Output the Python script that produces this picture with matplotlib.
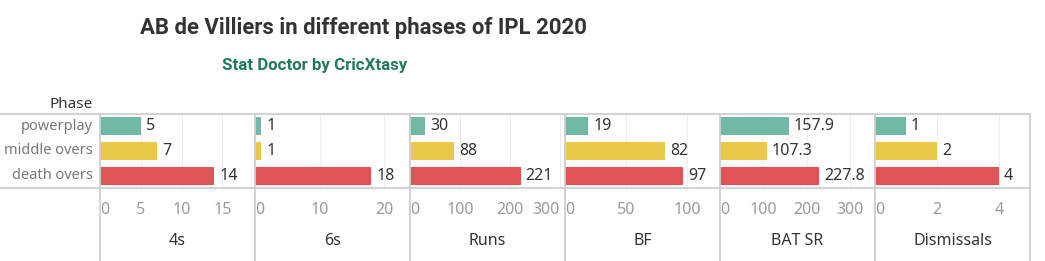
import matplotlib
matplotlib.use("Agg")
import matplotlib.pyplot as plt
from matplotlib.lines import Line2D

# ---- data ----
phases = ["powerplay", "middle overs", "death overs"]
metrics = ["4s", "6s", "Runs", "BF", "BAT SR", "Dismissals"]
fours = [5, 7, 14]
sixes = [1, 1, 18]
runs = [30, 88, 221]
balls_faced = [19, 82, 97]
bat_sr = [157.9, 107.3, 227.8]
dismissals = [1, 2, 4]
series = [fours, sixes, runs, balls_faced, bat_sr, dismissals]
label_formats = ["{:.0f}", "{:.0f}", "{:.0f}", "{:.0f}", "{:.1f}", "{:.0f}"]
axis_max = [19, 24, 310, 127, 357, 5]
axis_ticks = [[0, 5, 10, 15], [0, 10, 20], [0, 100, 200, 300], [0, 50, 100],
              [0, 100, 200, 300], [0, 2, 4]]
title = "AB de Villiers in different phases of IPL 2020"
subtitle = "Stat Doctor by CricXtasy"

# ---- style ----
colors = ["#72B8A7", "#EAC84A", "#DF5557"]
FONT = ["Noto Sans", "DejaVu Sans"]
TFONT = ["Roboto", "DejaVu Sans"]
plt.rcParams["font.family"] = FONT
W, H = 1045, 261
fig = plt.figure(figsize=(W / 100, H / 100), dpi=100)
fig.patch.set_facecolor("white")


def fx(px):
    return px / W


def fy(py):
    return 1 - py / H


panel_w = 155
lefts = [100 + panel_w * k for k in range(6)]
top_px, bot_px = 114, 188
border = "#cfcfcf"
FS = 11.5

axes = []
for k, (vals, fmt, xmax, ticks, name) in enumerate(
        zip(series, label_formats, axis_max, axis_ticks, metrics)):
    ax = fig.add_axes([fx(lefts[k]), fy(bot_px), panel_w / W, (bot_px - top_px) / H])
    ax.barh(range(len(phases)), vals, color=colors, height=0.72, zorder=2)
    ax.set_xlim(0, xmax)
    ax.set_ylim(len(phases) - 0.5, -0.5)
    for s in ax.spines.values():
        s.set_visible(False)
    ax.set_yticks([])
    ax.set_xticks(ticks)
    ax.set_xticklabels([str(t) for t in ticks])
    ax.tick_params(axis="x", length=0, pad=10, labelsize=FS, labelcolor="#9a9a9a")
    tl = ax.get_xticklabels()
    tl[0].set_ha("left")
    if ticks[-1] / xmax > 0.93:
        tl[-1].set_ha("right")
    ax.grid(axis="x", color="#ededed", lw=0.8, zorder=0)
    ax.set_axisbelow(True)
    for i, v in enumerate(vals):
        ax.annotate(fmt.format(v), xy=(v, i), xytext=(5, 0), textcoords="offset pixels",
                    va="center", ha="left", fontsize=FS, color="#333333")
    fig.text(fx(lefts[k] + panel_w / 2), fy(241), name, ha="center", va="center",
             fontsize=FS, color="#333333")
    axes.append(ax)

# row labels
for i, p in enumerate(phases):
    axes[0].annotate(p, xy=(0, i), xycoords=("axes fraction", "data"), xytext=(-7, 0),
                     textcoords="offset pixels", ha="right", va="center",
                     fontsize=10.5, color="#777777")
fig.text(fx(93), fy(104), "Phase", ha="right", va="center", fontsize=11,
         color="#333333")

# border lines
right = lefts[-1] + panel_w
lw = 1.3
for y in (top_px, bot_px):
    fig.add_artist(Line2D([fx(0), fx(right)], [fy(y), fy(y)], color=border, lw=lw,
                          transform=fig.transFigure))
for x in lefts + [right]:
    fig.add_artist(Line2D([fx(x), fx(x)], [fy(top_px), fy(H)], color=border, lw=lw,
                          transform=fig.transFigure))

# titles, fitted to the reference widths
t1 = fig.text(fx(140), fy(34), title, ha="left", va="baseline", fontsize=15,
              fontweight="bold", color="#333333", family=TFONT)
t2 = fig.text(fx(222), fy(70), subtitle, ha="left", va="baseline", fontsize=11,
              fontweight="bold", color="#217A5B", family=TFONT)
r = fig.canvas.get_renderer()
for t, target in ((t1, 450), (t2, 186)):
    w = t.get_window_extent(r).width
    t.set_fontsize(t.get_fontsize() * target / w)

fig.savefig("out.png", dpi=100, facecolor="white")
